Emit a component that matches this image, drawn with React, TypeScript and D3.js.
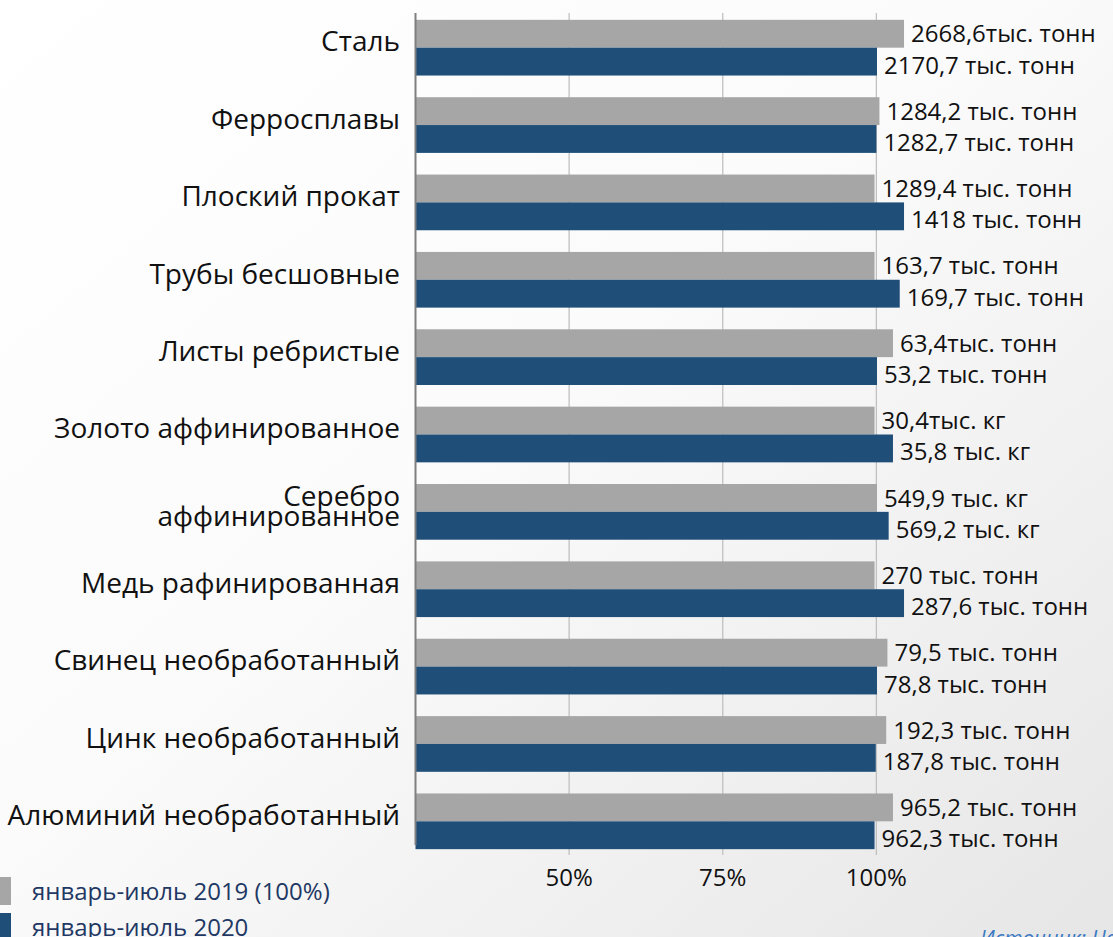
import * as d3 from "d3";
import React from "react";

const categories = [
  "Сталь",
  "Ферросплавы",
  "Плоский прокат",
  "Трубы бесшовные",
  "Листы ребристые",
  "Золото аффинированное",
  "Серебро\nаффинированное",
  "Медь рафинированная",
  "Свинец необработанный",
  "Цинк необработанный",
  "Алюминий необработанный",
];
const seriesNames = ["январь-июль 2019 (100%)", "январь-июль 2020"];
// bar lengths in percent
const values2019 = [104.5, 100.5, 99.7, 99.7, 102.7, 99.7, 100.1, 99.7, 101.8, 101.6, 102.7];
const values2020 = [100.1, 100, 104.5, 103.8, 100.1, 102.7, 102, 104.5, 100.1, 99.9, 99.7];
const labels2019 = [
  "2668,6тыс. тонн",
  "1284,2 тыс. тонн",
  "1289,4 тыс. тонн",
  "163,7 тыс. тонн",
  "63,4тыс. тонн",
  "30,4тыс. кг",
  "549,9 тыс. кг",
  "270 тыс. тонн",
  "79,5 тыс. тонн",
  "192,3 тыс. тонн",
  "965,2 тыс. тонн",
];
const labels2020 = [
  "2170,7 тыс. тонн",
  "1282,7 тыс. тонн",
  "1418 тыс. тонн",
  "169,7 тыс. тонн",
  "53,2 тыс. тонн",
  "35,8 тыс. кг",
  "569,2 тыс. кг",
  "287,6 тыс. тонн",
  "78,8 тыс. тонн",
  "187,8 тыс. тонн",
  "962,3 тыс. тонн",
];
const xTicks = [50, 75, 100];

const W = 1113;
const H = 937;
const FONT = "'Open Sans', 'Noto Sans', sans-serif";
const colors = ["#a6a6a6", "#1f4e79"];

export default function App() {
  const x = d3.scaleLinear().domain([25, 125]).range([415.5, 1030]);
  const y0 = d3
    .scaleBand<string>()
    .domain(categories)
    .range([9, 860])
    .paddingInner(0.28)
    .paddingOuter(0.14);
  const y1 = d3.scaleBand<number>().domain([0, 1]).range([0, y0.bandwidth()]);
  const series = [values2019, values2020];
  const seriesLabels = [labels2019, labels2020];

  return (
    <svg
      width={W}
      height={H}
      style={{ position: "fixed", left: 0, top: 0, fontFamily: FONT }}
    >
      <defs>
        <linearGradient id="bg" x1="0" y1="0" x2="1" y2="1">
          <stop offset="0" stopColor="#ffffff" />
          <stop offset="0.45" stopColor="#fbfbfb" />
          <stop offset="1" stopColor="#e6e6e6" />
        </linearGradient>
      </defs>
      <rect width={W} height={H} fill="url(#bg)" />

      {/* gridlines */}
      {xTicks.map((t) => (
        <line key={t} x1={x(t)} x2={x(t)} y1={13} y2={855} stroke="#c0c0c0" strokeWidth={1.3} />
      ))}

      {/* bars */}
      {categories.map((c, i) => (
        <g key={c} transform={`translate(0,${y0(c)})`}>
          {series.map((s, k) => (
            <rect
              key={k}
              x={x(25)}
              y={y1(k)}
              width={x(s[i]) - x(25)}
              height={y1.bandwidth()}
              fill={colors[k]}
            />
          ))}
          {series.map((s, k) => (
            <text
              key={"l" + k}
              x={x(s[i]) + 7}
              y={(y1(k) as number) + y1.bandwidth() / 2}
              dy={k === 0 ? "0.36em" : "0.5em"}
              fontSize={24}
              fill="#111"
            >
              {seriesLabels[k][i]}
            </text>
          ))}
        </g>
      ))}

      {/* y axis line */}
      <line x1={415.5} x2={415.5} y1={13} y2={845} stroke="#7f7f7f" strokeWidth={2} />

      {/* category labels */}
      {categories.map((c) => {
        const lines = c.split("\n");
        const cy = (y0(c) as number) + y0.bandwidth() / 2 - 6;
        return (
          <text key={c} x={398} y={cy} textAnchor="end" fontSize={28} fill="#111">
            {lines.map((ln, j) => (
              <tspan
                key={j}
                x={400}
                dy={j === 0 ? (lines.length === 1 ? "0.35em" : "0.02em") : "0.7em"}
              >
                {ln}
              </tspan>
            ))}
          </text>
        );
      })}

      {/* x tick labels */}
      {xTicks.map((t) => (
        <text key={t} x={x(t)} y={886} textAnchor="middle" fontSize={24} fill="#111">
          {t}%
        </text>
      ))}

      {/* legend */}
      {seriesNames.map((n, k) => (
        <g key={n} transform={`translate(0,${877 + k * 36})`}>
          <rect x={0} y={0} width={11} height={28} fill={colors[k]} />
          <text x={32} y={23} fontSize={24} fill="#1f3864">
            {n}
          </text>
        </g>
      ))}

      <text x={980} y={946} fontSize={21} fontStyle="italic" fill="#3a78c3">
        Источник: Национальный статистический комитет
      </text>
    </svg>
  );
}
